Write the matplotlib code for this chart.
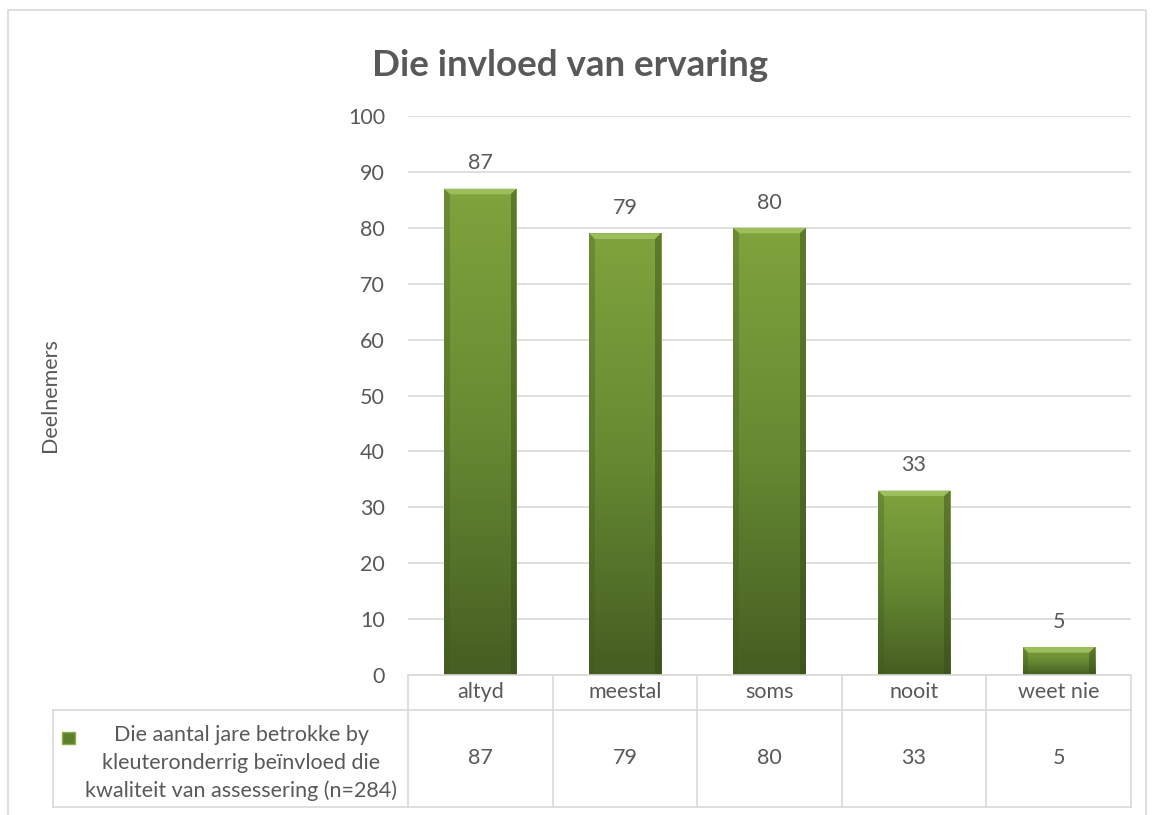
import matplotlib.pyplot as plt
from matplotlib.colors import LinearSegmentedColormap
from matplotlib.patches import Polygon
from matplotlib.lines import Line2D
import numpy as np

categories = ["altyd", "meestal", "soms", "nooit", "weet nie"]
values = [87, 79, 80, 33, 5]
series_name = "Die aantal jare betrokke by\nkleuteronderrig beïnvloed die\nkwaliteit van assessering (n=284)"
title = "Die invloed van ervaring"
ylabel = "Deelnemers"

plt.rcParams["font.family"] = ["Lato", "DejaVu Sans"]
txt = "#595959"
grid = "#D9D9D9"
fs = 15.5

W, H = 1154, 815
fig = plt.figure(figsize=(W / 100, H / 100), dpi=100)

def fx(px):
    return px / W

def fy(py):
    return 1 - py / H

# outer chart border
fig.add_artist(Line2D([fx(8), fx(8), fx(1146), fx(1146)], [fy(815), fy(10), fy(10), fy(815)],
                      color=grid, lw=1.2))

ax = fig.add_axes([fx(408), fy(675), fx(1131 - 408), (675 - 116) / H])
ax.set_xlim(-0.5, 4.5)
ax.set_ylim(0, 100)
ax.set_yticks(range(0, 101, 10))
ax.tick_params(axis="y", length=0, labelsize=fs, labelcolor=txt, pad=16.5)
ax.tick_params(axis="x", length=0, labelbottom=False)
ax.grid(axis="y", color=grid, lw=1.2)
ax.set_axisbelow(True)
for s in ax.spines.values():
    s.set_visible(False)

cmap = LinearSegmentedColormap.from_list("g", ["#465E22", "#668A32", "#80A33D"])
grad = np.linspace(0, 1, 256).reshape(-1, 1)
bw = 0.5
bars = ax.bar(range(len(values)), values, width=bw, color="none", zorder=3)
for i, (b, v) in enumerate(zip(bars, values)):
    im = ax.imshow(grad, cmap=cmap, origin="lower", aspect="auto",
                   extent=[i - bw / 2, i + bw / 2, 0, v], zorder=3)
    im.set_clip_path(b)
    dx, dy = 0.04, 1.0
    # top bevel
    ax.add_patch(Polygon([[i - bw / 2, v], [i + bw / 2, v], [i + bw / 2 - dx, v - dy], [i - bw / 2 + dx, v - dy]],
                         closed=True, color="#9DBE5C", lw=0, zorder=4))
    # right bevel
    ax.add_patch(Polygon([[i + bw / 2, v], [i + bw / 2, 0], [i + bw / 2 - dx, 0], [i + bw / 2 - dx, v - dy]],
                         closed=True, color="#34481A", alpha=0.45, lw=0, zorder=4))
    # left bevel
    ax.add_patch(Polygon([[i - bw / 2, v], [i - bw / 2, 0], [i - bw / 2 + dx, 0], [i - bw / 2 + dx, v - dy]],
                         closed=True, color="#3E5520", alpha=0.3, lw=0, zorder=4))
    ax.annotate(str(v), (i, v), xytext=(0, 11), textcoords="offset points",
                ha="center", va="bottom", fontsize=fs, color=txt)

ax.set_ylabel(ylabel, fontsize=fs, color=txt, labelpad=0)
ax.yaxis.set_label_coords(fx(60 - 408) / fx(1131 - 408), 0.5)

fig.text(fx(570), fy(65), title, ha="center", va="center", fontsize=26.5,
         fontweight="bold", color=txt)

# data table
colw = 1.0
left = -0.5 - (408 - 53) / 144.6
tab = fig.add_axes([fx(53), fy(807), fx(1131 - 53), (807 - 675) / H])
tab.set_xlim(left, 4.5)
tab.set_ylim(132, 0)
tab.axis("off")
lk = dict(color=grid, lw=1.2, clip_on=False)
tab.plot([-0.5, 4.5], [0, 0], **lk)
tab.plot([left, 4.5], [35, 35], **lk)
tab.plot([left, 4.5], [132, 132], **lk)
tab.plot([left, left], [35, 132], **lk)
for k in range(len(categories) + 1):
    tab.plot([-0.5 + k * colw, -0.5 + k * colw], [0, 132], **lk)
for i, (c, v) in enumerate(zip(categories, values)):
    tab.text(i, 17, c, ha="center", va="center", fontsize=fs, color=txt)
    tab.text(i, 83, str(v), ha="center", va="center", fontsize=fs, color=txt)
tab.text(left + (241 - 53) / 144.6, 88, series_name, ha="center", va="center",
         fontsize=fs, color=txt, linespacing=1.5)
mx = left + (62 - 53) / 144.6
tab.add_patch(Polygon([[mx, 57], [mx + 0.09, 57], [mx + 0.09, 69], [mx, 69]],
                      closed=True, facecolor="#5E7F2E", edgecolor="#8BAE47", lw=1))

fig.savefig("out.png", dpi=100)
